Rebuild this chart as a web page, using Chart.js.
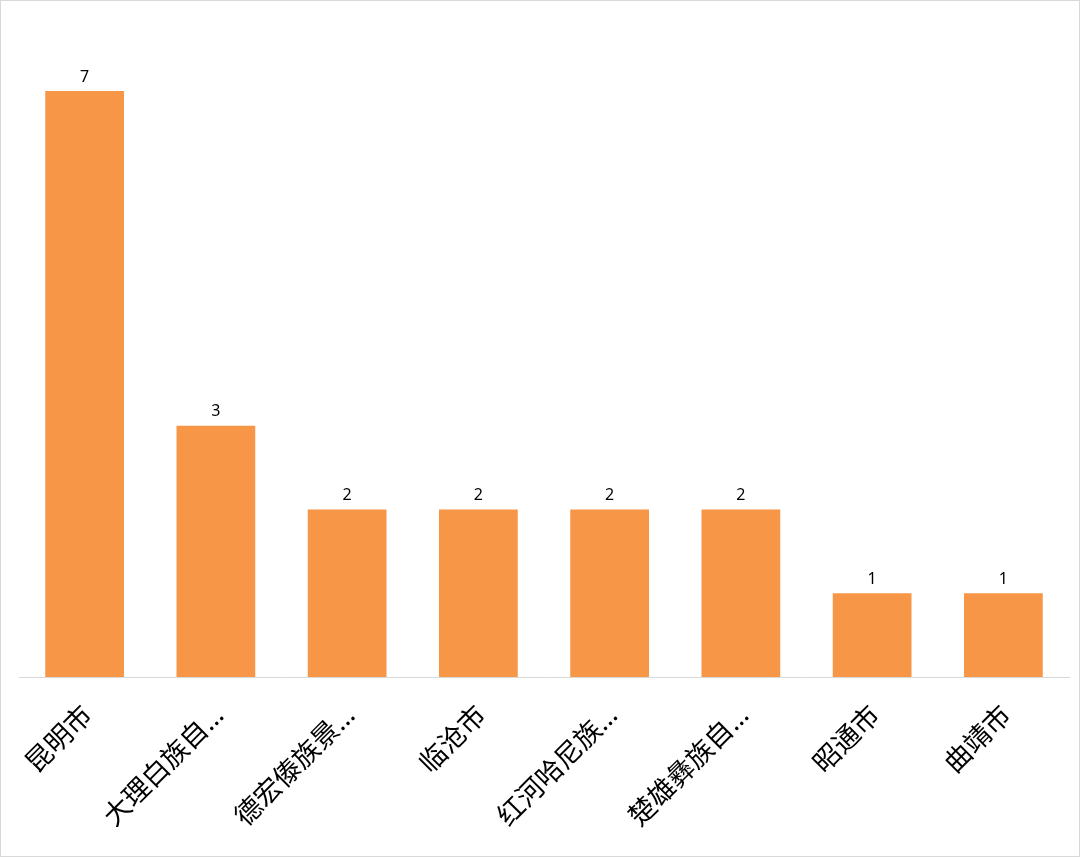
<!DOCTYPE html>
<html>
<head>
<meta charset="utf-8">
<script src="https://cdn.jsdelivr.net/npm/chart.js@4/dist/chart.umd.min.js"></script>
<style>
    html, body { margin: 0; padding: 0; background: #fff; }
    #wrap {
        width: 1080px;
        height: 857px;
        box-sizing: border-box;
        border: 1px solid #d9d9d9;
        position: relative;
    }
    #wrap canvas { display: block; }
</style>
</head>
<body>
<div id="wrap"><canvas id="city-chart" width="1078" height="855"></canvas></div>
<script>
const categories = ["昆明市", "大理白族自…", "德宏傣族景…", "临沧市", "红河哈尼族…", "楚雄彝族自…", "昭通市", "曲靖市"];
const counts = [7, 3, 2, 2, 2, 2, 1, 1];

const barColor = "#F79646";

// numbers on top of each bar
const valueLabels = {
    id: "valueLabels",
    afterDatasetsDraw(chart) {
        const c = chart.ctx;
        const meta = chart.getDatasetMeta(0);
        c.save();
        c.font = "16px 'Noto Sans', 'Noto Sans CJK SC', sans-serif";
        c.fillStyle = "#000";
        c.textAlign = "center";
        c.textBaseline = "bottom";
        meta.data.forEach((bar, i) => {
            c.fillText(String(counts[i]), bar.x, bar.y - 6);
        });
        c.restore();
    },
};

const ctx = document.getElementById("city-chart");

new Chart(ctx, {
    type: "bar",
    data: {
        labels: categories,
        datasets: [
            {
                label: "数量",
                data: counts,
                backgroundColor: barColor,
                borderWidth: 0,
                barPercentage: 0.6,
                categoryPercentage: 1,
            },
        ],
    },
    options: {
        responsive: false,
        animation: false,
        layout: {
            padding: { top: 90, left: 18, right: 10, bottom: 0 },
        },
        plugins: {
            legend: { display: false },
            tooltip: { enabled: false },
        },
        scales: {
            x: {
                grid: { display: false, drawTicks: false },
                border: { display: true, color: "#d9d9d9", width: 1 },
                ticks: {
                    color: "#000",
                    // latin font first so the ellipsis stays narrow
                    font: { family: "'Noto Sans', 'Noto Sans CJK SC', sans-serif", size: 27 },
                    minRotation: 45,
                    maxRotation: 45,
                    autoSkip: false,
                    padding: 23,
                    labelOffset: 4,
                },
                afterFit(scale) {
                    scale.height = 179;
                },
            },
            y: {
                display: false,
                min: 0,
                max: 7,
            },
        },
    },
    plugins: [valueLabels],
});
</script>
</body>
</html>
